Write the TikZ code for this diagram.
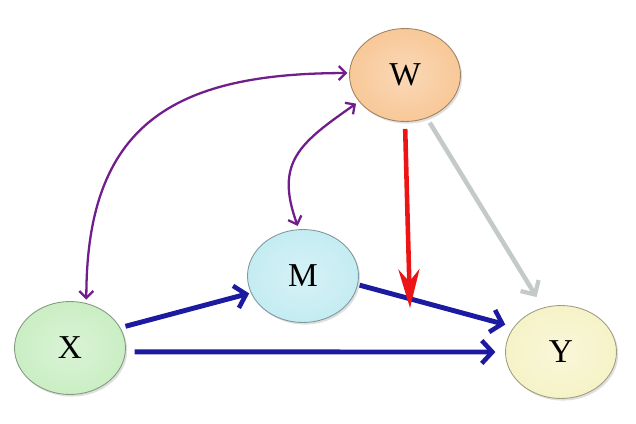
\documentclass[tikz,border=0pt]{standalone}
\usepackage{fontspec}
\setmainfont{Liberation Serif}
\usetikzlibrary{arrows.meta, shapes.geometric, shadows}
\definecolor{wpeach}{RGB}{248,200,152}
\definecolor{mcyan}{RGB}{196,236,242}
\definecolor{xgreen}{RGB}{202,238,196}
\definecolor{ycream}{RGB}{246,243,200}
\definecolor{pathblue}{RGB}{28,26,160}
\definecolor{covpurple}{RGB}{112,30,140}
\definecolor{modred}{RGB}{236,20,20}
\definecolor{lightgrey}{RGB}{196,202,202}
\tikzset{
  var/.style={ellipse, minimum width=2.22cm, minimum height=1.86cm, inner sep=0pt,
    inner color=#1!70!white, outer color=#1, draw=#1!65!black, line width=0.5pt,
    drop shadow={opacity=0.25, shadow xshift=1pt, shadow yshift=-1.2pt},
    font=\fontsize{19}{21}\selectfont},
  path/.style={line width=2.8pt, draw=pathblue, -{Straight Barb[length=6pt, width=13pt, line width=2.6pt]}},
  cov/.style={line width=1.3pt, draw=covpurple,
    {Straight Barb[length=4pt, width=8pt]}-{Straight Barb[length=4pt, width=8pt]}},
  moderate/.style={line width=2.6pt, draw=modred, -{Stealth[length=22pt, width=12pt, inset=7pt]}},
  direct/.style={line width=2.6pt, draw=lightgrey, -{Straight Barb[length=6pt, width=12pt, line width=2.4pt]}}
}

\begin{document}
\begin{tikzpicture}[x=0.02cm, y=-0.02cm]
    \useasboundingbox (0,0) rectangle (636,423);
    \node[var=wpeach] (W) at (405,75) {W};
    \node[var=mcyan] (M) at (303,276) {M};
    \node[var=xgreen] (X) at (70,348) {X};
    \node[var=ycream] (Y) at (561,352) {Y};
    \coordinate (mid) at (410,308);
    % paths
    \draw[path, shorten <=3pt, shorten >=1pt] (X.22) -- (M.198);
    \draw[path, shorten <=5pt, shorten >=5.5pt] (X.-4) -- (Y.west);
    \draw[path, shorten <=1pt, shorten >=5pt] (M.-9) -- (Y.152);
    \draw[moderate, shorten <=4pt] (W.south) -- (mid);
    \draw[direct, shorten <=3pt, shorten >=7pt] (W.-63) -- (Y.112);
    % covariances
    \draw[cov, shorten <=2pt, shorten >=1pt] (X.70) to[out=90, in=180, looseness=1.3] (W.178);
    \draw[cov, shorten <=2pt, shorten >=2pt] (M.95) to[out=110, in=215, looseness=1.3] (W.210);
\end{tikzpicture}
\end{document}
